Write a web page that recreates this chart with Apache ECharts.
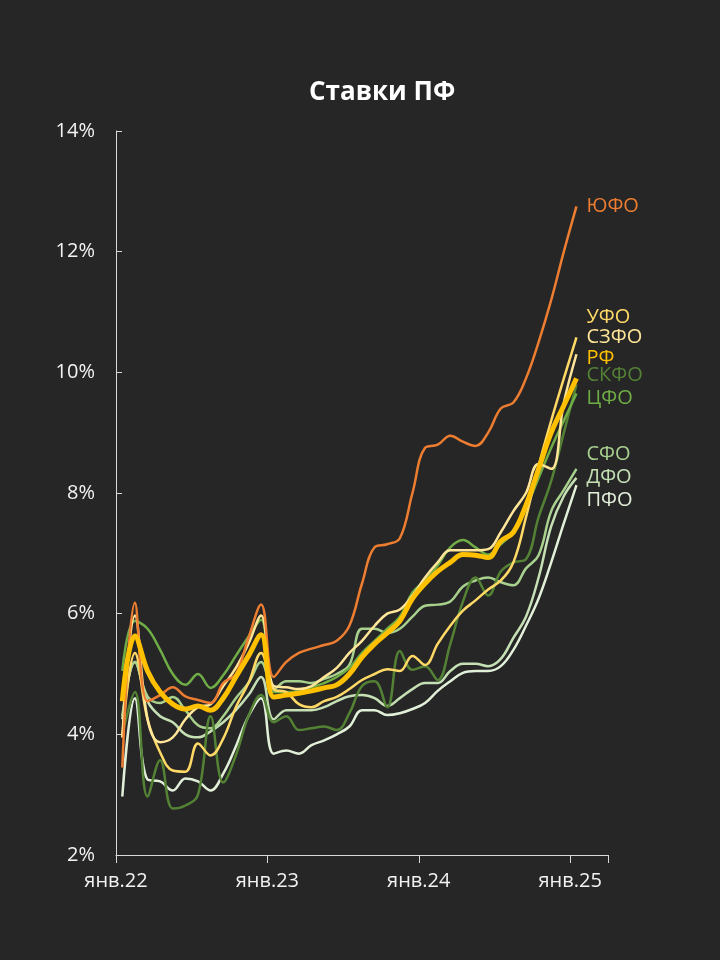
<!DOCTYPE html>
<html>
<head>
<meta charset="utf-8">
<script src="https://cdn.jsdelivr.net/npm/echarts@6/dist/echarts.min.js"></script>
<style>
  html, body { margin: 0; background: #262626; }
  #chart { width: 720px; height: 960px; }
</style>
</head>
<body>
<div id="chart"></div>
<script>
// monthly values, янв.22 .. янв.25 (mid-month)
const startYear = 22

const yufo = [3.45, 6.18, 4.55, 4.65, 4.78, 4.63, 4.57, 4.52, 4.85, 5.0, 5.6, 6.15, 4.95, 5.2, 5.35, 5.42, 5.48, 5.55, 5.8, 6.5, 7.1, 7.15, 7.25, 8.0, 8.75, 8.8, 8.95, 8.85, 8.78, 9.0, 9.4, 9.5, 9.9, 10.5, 11.2, 12.0, 12.75]
const rf = [4.55, 5.63, 5.05, 4.7, 4.5, 4.42, 4.47, 4.4, 4.6, 4.95, 5.3, 5.65, 4.62, 4.65, 4.68, 4.72, 4.77, 4.82, 5.0, 5.28, 5.5, 5.68, 5.88, 6.25, 6.5, 6.7, 6.85, 6.98, 6.97, 6.93, 7.2, 7.35, 7.8, 8.4, 9.0, 9.45, 9.9]
const cfo = [5.05, 5.88, 5.75, 5.4, 5.0, 4.82, 5.0, 4.77, 4.98, 5.3, 5.62, 5.9, 4.7, 4.7, 4.72, 4.78, 4.85, 4.95, 5.1, 5.35, 5.55, 5.75, 5.95, 6.35, 6.55, 6.8, 7.1, 7.22, 7.1, 6.98, 7.15, 7.35, 7.75, 8.25, 8.75, 9.2, 9.65]
const ufo = [3.95, 5.35, 4.25, 3.7, 3.4, 3.38, 3.85, 3.65, 3.93, 4.45, 4.85, 5.35, 4.75, 4.7, 4.5, 4.45, 4.55, 4.62, 4.75, 4.9, 5.0, 5.08, 5.05, 5.3, 5.15, 5.5, 5.8, 6.05, 6.22, 6.4, 6.55, 6.85, 7.6, 8.45, 9.2, 9.9, 10.58]
const szfo = [3.95, 5.97, 4.25, 3.87, 3.95, 4.25, 4.45, 4.5, 4.8, 5.1, 5.5, 5.97, 4.8, 4.78, 4.75, 4.8, 4.95, 5.1, 5.35, 5.55, 5.8, 6.0, 6.07, 6.3, 6.6, 6.85, 7.05, 7.05, 7.05, 7.07, 7.35, 7.7, 8.0, 8.48, 8.4, 9.5, 10.3]
const skfo = [4.0, 4.7, 2.97, 3.57, 2.77, 2.82, 3.0, 4.3, 3.2, 3.65, 4.3, 4.65, 4.2, 4.3, 4.07, 4.1, 4.13, 4.07, 4.35, 4.8, 4.88, 4.45, 5.38, 5.07, 5.13, 4.9, 5.5, 6.2, 6.6, 6.3, 6.7, 6.85, 6.9, 7.6, 8.2, 9.0, 9.8]
const sfo = [4.3, 5.2, 4.63, 4.52, 4.62, 4.4, 4.15, 4.1, 4.3, 4.6, 4.85, 5.2, 4.75, 4.88, 4.88, 4.85, 4.92, 5.0, 5.15, 5.75, 5.75, 5.68, 5.75, 5.95, 6.13, 6.15, 6.2, 6.45, 6.55, 6.6, 6.52, 6.47, 6.75, 6.97, 7.7, 8.05, 8.4]
const dfo = [4.25, 5.2, 4.55, 4.3, 4.2, 4.0, 3.95, 4.05, 4.2, 4.4, 4.65, 4.95, 4.25, 4.4, 4.4, 4.4, 4.45, 4.55, 4.63, 4.65, 4.6, 4.47, 4.6, 4.75, 4.85, 4.85, 5.05, 5.17, 5.17, 5.13, 5.25, 5.6, 5.95, 6.6, 7.45, 7.95, 8.25]
const pfo = [2.97, 4.6, 3.25, 3.22, 3.07, 3.27, 3.22, 3.07, 3.35, 3.8, 4.3, 4.6, 3.68, 3.73, 3.68, 3.82, 3.9, 4.0, 4.13, 4.4, 4.4, 4.32, 4.35, 4.42, 4.52, 4.72, 4.88, 5.02, 5.05, 5.05, 5.13, 5.4, 5.8, 6.25, 6.85, 7.5, 8.13]

const font = 'Open Sans'
const chart = echarts.init(document.getElementById('chart'))

// labelDy: how far the end label is moved up/down so the names don't collide
function line(name, values, color, width, z, labelDy) {
	return {
		name: name,
		type: 'line',
		// point i sits in the middle of its month
		data: values.map((v, i) => [i + 0.5, v]),
		smooth: 0.4,
		showSymbol: false,
		z: z,
		lineStyle: { color: color, width: width },
		itemStyle: { color: color },
		emphasis: { disabled: true },
		endLabel: {
			show: true,
			formatter: '{a}',
			color: color,
			fontFamily: font,
			fontSize: 20,
			distance: 10,
			offset: [0, labelDy]
		}
	}
}

const option = {
	backgroundColor: '#262626',
	animation: false,
	title: {
		text: 'Ставки ПФ',
		left: 304,
		top: 75,
		textStyle: { color: '#ffffff', fontFamily: font, fontSize: 26, fontWeight: 'bold' }
	},
	grid: { left: 116, right: 112, top: 131, bottom: 105 },
	xAxis: {
		type: 'value',
		min: 0,
		max: 39,
		interval: 12,
		axisLine: { lineStyle: { color: '#d9d9d9', width: 1 } },
		axisTick: { inside: false, length: 8, lineStyle: { color: '#d9d9d9' } },
		splitLine: { show: false },
		axisLabel: {
			color: '#f2f2f2',
			fontFamily: font,
			fontSize: 20,
			margin: 16,
			formatter: v => (v % 12 === 0 ? 'янв.' + (startYear + v / 12) : '')
		}
	},
	yAxis: {
		type: 'value',
		min: 2,
		max: 14,
		interval: 2,
		axisLine: { show: true, lineStyle: { color: '#d9d9d9', width: 1 } },
		axisTick: { show: true, inside: true, length: 6, lineStyle: { color: '#d9d9d9' } },
		splitLine: { show: false },
		axisLabel: {
			color: '#f2f2f2',
			fontFamily: font,
			fontSize: 20,
			margin: 21,
			formatter: '{value}%'
		}
	},
	series: [
		line('ПФО', pfo, '#E2F0D9', 2.5, 2, 15),
		line('ДФО', dfo, '#C5E0B4', 2.5, 3, -1),
		line('СФО', sfo, '#A9D18E', 2.5, 4, -15),
		line('СКФО', skfo, '#548235', 2.5, 5, -9),
		line('ЦФО', cfo, '#70AD47', 2.5, 6, 5),
		line('УФО', ufo, '#FFD966', 2.5, 7, -20),
		line('СЗФО', szfo, '#FFE699', 2.5, 8, -17),
		line('ЮФО', yufo, '#ED7D31', 2.5, 9, 0),
		line('РФ', rf, '#FFC000', 5, 10, -20)
	]
}

chart.setOption(option)
</script>
</body>
</html>
